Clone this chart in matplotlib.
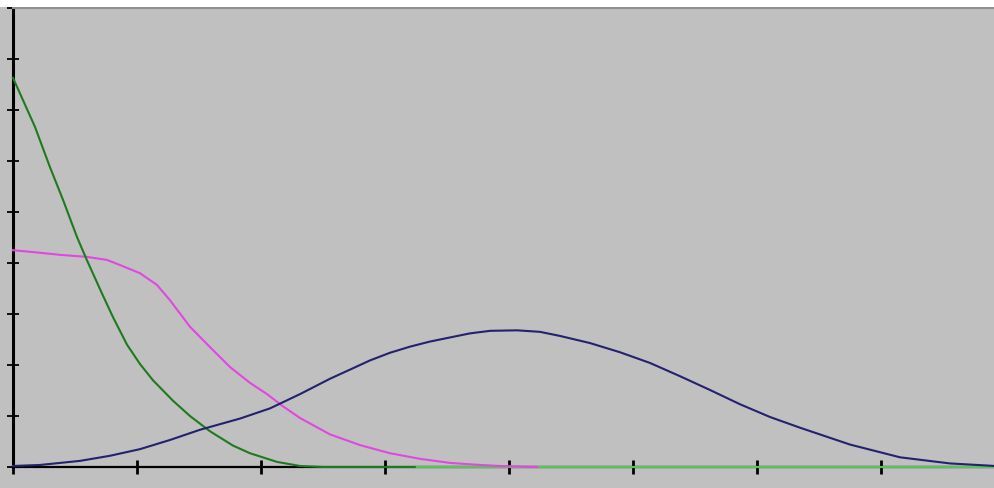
import numpy as np
import matplotlib.pyplot as plt
from matplotlib.patches import Rectangle

# 数据
green_x = [0.0, 0.177, 0.298, 0.403, 0.516, 0.597, 0.718, 0.806, 0.919, 1.024,
           1.129, 1.290, 1.427, 1.589, 1.774, 1.911, 2.129, 2.315, 2.5, 3.24]
green_y = [7.63, 6.67, 5.88, 5.24, 4.51, 4.05, 3.40, 2.94, 2.40, 2.02,
           1.70, 1.30, 1.00, 0.70, 0.42, 0.27, 0.10, 0.02, 0.0, 0.0]

tail_x = [3.24, 7.92]
tail_y = [0.0, 0.0]

pink_x = [0.0, 0.137, 0.379, 0.597, 0.758, 0.863, 1.024, 1.161, 1.266, 1.427, 1.589,
          1.750, 1.911, 2.048, 2.177, 2.315, 2.556, 2.798, 3.040, 3.282, 3.524,
          3.766, 3.927, 4.226]
pink_y = [4.25, 4.22, 4.16, 4.12, 4.06, 3.96, 3.80, 3.57, 3.27, 2.75, 2.35,
          1.96, 1.65, 1.43, 1.19, 0.96, 0.64, 0.43, 0.27, 0.16, 0.08,
          0.04, 0.02, 0.0]

blue_x = [0.0, 0.218, 0.540, 0.782, 1.024, 1.266, 1.508, 1.831, 2.073, 2.315, 2.556,
          2.718, 2.879, 3.040, 3.202, 3.363, 3.524, 3.685, 3.847, 4.065, 4.250,
          4.411, 4.653, 4.895, 5.137, 5.379, 5.621, 5.863, 6.105, 6.347, 6.750,
          7.153, 7.556, 7.919]
blue_y = [0.02, 0.04, 0.12, 0.22, 0.35, 0.53, 0.73, 0.95, 1.15, 1.43, 1.73,
          1.91, 2.09, 2.24, 2.36, 2.46, 2.54, 2.62, 2.67, 2.68, 2.65,
          2.57, 2.43, 2.25, 2.04, 1.78, 1.51, 1.23, 0.98, 0.77, 0.44,
          0.19, 0.07, 0.02]

x_ticks = list(range(0, 8))
y_ticks = list(range(0, 10))

bg = '#c0c0c0'
fig = plt.figure(figsize=(9.95, 4.88), dpi=100, facecolor=bg)
ax = fig.add_axes([13 / 995, 21 / 488, 982 / 995, 459 / 488])
ax.set_facecolor(bg)

# 顶部白条
fig.patches.append(Rectangle((0, 1 - 7 / 488), 1, 7 / 488, transform=fig.transFigure,
                             facecolor='white', edgecolor='none', zorder=0))

ax.plot(tail_x, tail_y, color='#5cc05c', lw=1.6, zorder=4, clip_on=False)
ax.plot(pink_x, pink_y, color='#e048e0', lw=1.5, zorder=5, clip_on=False)
ax.plot(green_x, green_y, color='#1f7a1f', lw=1.5, zorder=6, clip_on=False)
ax.plot(blue_x, blue_y, color='#22226e', lw=1.5, zorder=7, clip_on=False)

ax.set_xlim(0, 7.919)
ax.set_ylim(0, 9)
ax.set_xticks(x_ticks)
ax.set_yticks(y_ticks)
ax.set_xticklabels([])
ax.set_yticklabels([])

ax.spines['left'].set_color('black')
ax.spines['left'].set_linewidth(2.2)
ax.spines['bottom'].set_color('black')
ax.spines['bottom'].set_linewidth(1.6)
ax.spines['top'].set_color('#909090')
ax.spines['top'].set_linewidth(1.5)
ax.spines['right'].set_visible(False)

ax.tick_params(axis='y', direction='inout', length=8.5, width=1.3, color='black')
ax.tick_params(axis='x', direction='inout', length=10, width=2, color='black')

fig.savefig('out.png', dpi=100, facecolor=bg)
